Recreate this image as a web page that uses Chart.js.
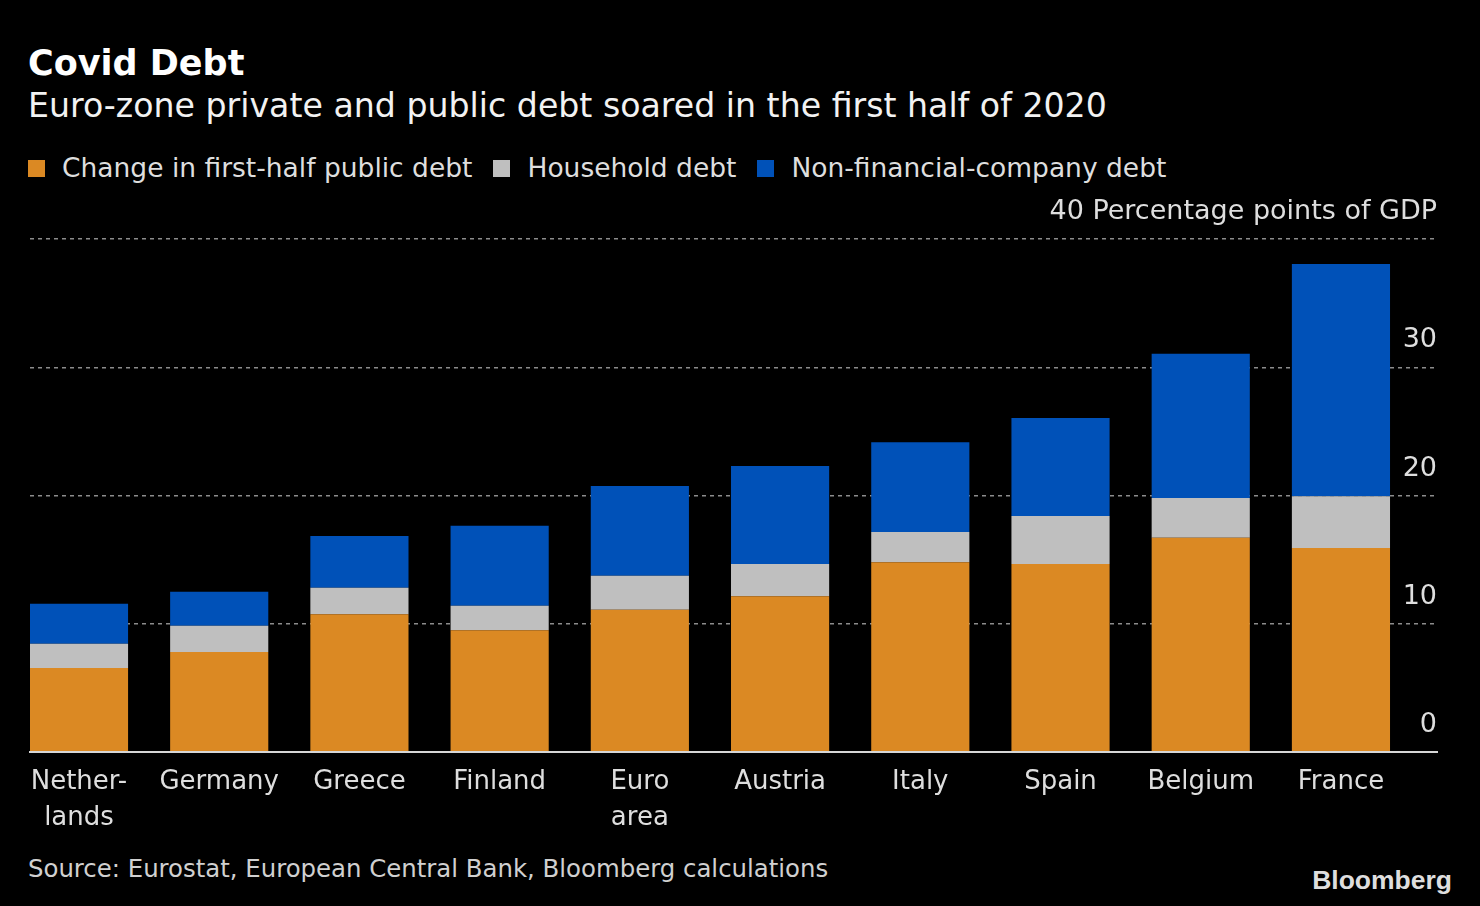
<!DOCTYPE html>
<html>
<head>
<meta charset="utf-8">
<title>Covid Debt</title>
<script src="https://cdn.jsdelivr.net/npm/chart.js@4"></script>
<style>
  html, body { margin: 0; padding: 0; background: #000; }
  body { width: 1480px; height: 906px; position: relative; overflow: hidden; font-family: "DejaVu Sans", sans-serif; }
  .txt { position: absolute; white-space: nowrap; line-height: 1; }
  #title { left: 28px; top: 46px; font-size: 35px; font-weight: bold; color: #fff; }
  #subtitle { left: 28px; top: 89px; font-size: 33.2px; color: #f2f2f2; }
  #legend { left: 28px; top: 155px; font-size: 26.5px; color: #dedede; }
  #legend span { margin-right: 21px; }
  #legend i { display: inline-block; width: 17px; height: 17px; margin-right: 17px; }
  #source { left: 28px; top: 857px; font-size: 24.4px; color: #d0d0d0; }
  #logo { right: 28px; top: 867px; font-size: 26.5px; font-weight: bold; color: #dedede; font-family: "Liberation Sans", Arial, sans-serif; }
  #chart-wrap { position: absolute; left: 0; top: 190px; width: 1480px; height: 660px; }
</style>
</head>
<body>
<div id="title" class="txt">Covid Debt</div>
<div id="subtitle" class="txt">Euro-zone private and public debt soared in the first half of 2020</div>
<div id="legend" class="txt">
  <span><i style="background:#db8923"></i>Change in first-half public debt</span><span><i style="background:#bfbfbf"></i>Household debt</span><span><i style="background:#0051b8"></i>Non-financial-company debt</span>
</div>
<div id="chart-wrap"><canvas id="debtChart"></canvas></div>
<div id="source" class="txt">Source: Eurostat, European Central Bank, Bloomberg calculations</div>
<div id="logo" class="txt">Bloomberg</div>

<script>
// Data (percentage points of GDP)
const countries = [['Nether-', 'lands'], 'Germany', 'Greece', 'Finland', ['Euro', 'area'], 'Austria', 'Italy', 'Spain', 'Belgium', 'France'];
const publicDebt = [6.55, 7.8, 10.75, 9.5, 11.1, 12.15, 14.8, 14.65, 16.7, 15.9];
const householdDebt = [1.9, 2.05, 2.05, 1.9, 2.65, 2.5, 2.35, 3.75, 3.1, 4.05];
const companyDebt = [3.1, 2.65, 4.05, 6.25, 7.0, 7.65, 7.0, 7.65, 11.25, 18.1];
const yUnit = 'Percentage points of GDP';

// x range leaves room on the right for the value labels
const X_MIN = -0.3494;
const X_MAX = 9.685;

const COLORS = {
    public: '#db8923',
    household: '#bfbfbf',
    company: '#0051b8',
    grid: '#8c8c8c',
    text: '#dedede'
};

const toPoints = arr => arr.map((y, x) => ({ x, y }));

function makeSet(label, values, color) {
    return {
        label: label,
        data: toPoints(values),
        backgroundColor: color,
        borderWidth: 0,
        categoryPercentage: 1,
        barPercentage: 0.7
    };
}

const ctx = document.getElementById('debtChart').getContext('2d');

new Chart(ctx, {
    type: 'bar',
    data: {
        datasets: [
            makeSet('Change in first-half public debt', publicDebt, COLORS.public),
            makeSet('Household debt', householdDebt, COLORS.household),
            makeSet('Non-financial-company debt', companyDebt, COLORS.company)
        ]
    },
    options: {
        responsive: true,
        maintainAspectRatio: false,
        animation: false,
        layout: { padding: { top: 49, left: 30, right: 43, bottom: 8 } },
        plugins: {
            legend: { display: false },
            tooltip: { enabled: false }
        },
        scales: {
            x: {
                type: 'linear',
                stacked: true,
                offset: false,
                min: X_MIN,
                max: X_MAX,
                grid: { display: false, drawTicks: false, offset: false },
                border: { display: true, color: '#d6d6d6', width: 2, z: 1 },
                afterBuildTicks: axis => {
                    axis.ticks = countries.map((_, i) => ({ value: i }));
                },
                afterFit: axis => { axis.height = 90; },
                ticks: {
                    autoSkip: false,
                    maxRotation: 0,
                    padding: 12,
                    color: COLORS.text,
                    font: { family: 'DejaVu Sans', size: 26, lineHeight: 1.4 },
                    callback: v => countries[v]
                }
            },
            y: {
                position: 'right',
                stacked: true,
                min: 0,
                max: 40,
                grid: {
                    drawTicks: false,
                    lineWidth: 1.5,
                    color: c => (c.tick && c.tick.value === 0) ? 'rgba(0,0,0,0)' : COLORS.grid
                },
                border: { display: false, dash: [4, 4] },
                ticks: {
                    stepSize: 10,
                    mirror: true,
                    padding: 0,
                    labelOffset: -27,
                    color: COLORS.text,
                    font: { family: 'DejaVu Sans', size: 27 },
                    callback: v => v === 40 ? v + ' ' + yUnit : v
                }
            }
        }
    }
});
</script>
</body>
</html>
